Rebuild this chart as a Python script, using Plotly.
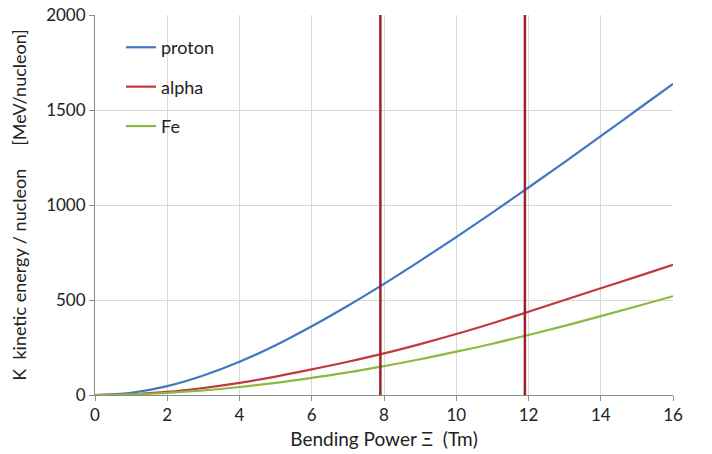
import plotly.graph_objects as go

bending_power = [0, 1, 2, 3, 4, 5, 6, 7, 8, 9, 10, 11, 12, 13, 14, 15, 16]
proton = [0, 12, 47, 103, 175, 262, 362, 470, 585, 706, 831, 960, 1092, 1226, 1362, 1500, 1638]
alpha = [0, 4, 16, 37, 64, 97, 135, 175, 219, 268, 321, 378, 438, 500, 562, 623, 685]
fe = [0, 3, 11, 24, 42, 64, 90, 119, 152, 188, 228, 270, 316, 364, 415, 467, 520]
marker_lines = [7.9, 11.9]

series = [("proton", proton, "#3f78c0"), ("alpha", alpha, "#c0393b"), ("Fe", fe, "#8db83f")]

fig = go.Figure()
for name, vals, col in series:
    fig.add_trace(go.Scatter(x=bending_power, y=vals, mode="lines", name=name,
                             legendgroup=name,
                             line=dict(color=col, width=2.2, shape="spline")))

for xv in marker_lines:
    fig.add_vline(x=xv, line=dict(color="#9b2226", width=2.5), layer="above")

font = "Lato, 'Open Sans', sans-serif"
fig.update_layout(
    width=712, height=454,
    margin=dict(l=95, r=39, t=15, b=59, autoexpand=False),
    paper_bgcolor="white", plot_bgcolor="white",
    font=dict(family=font, size=17, color="#222222"),
    showlegend=True,
    hovermode=False,
    legend=dict(x=0.045, y=0.963, xanchor="left", yanchor="top",
                bgcolor="rgba(0,0,0,0)", tracegroupgap=13,
                font=dict(size=18, color="#222222"), itemwidth=30),
    xaxis=dict(range=[0, 16], tickvals=[0, 2, 4, 6, 8, 10, 12, 14, 16],
               showgrid=True, gridcolor="#d9d9d9", gridwidth=1,
               showline=True, linecolor="#8c8c8c", linewidth=1,
               ticks="outside", ticklen=5, tickcolor="#8c8c8c",
               zeroline=False, automargin=False, ticklabeloverflow="allow",
               title=dict(text="Bending Power \u039e  (Tm)", font=dict(size=19), standoff=8)),
    yaxis=dict(range=[0, 2000], tickvals=[0, 500, 1000, 1500, 2000],
               showgrid=True, gridcolor="#d9d9d9", gridwidth=1,
               showline=True, linecolor="#8c8c8c", linewidth=1,
               ticks="outside", ticklen=5, tickcolor="#8c8c8c",
               zeroline=False, automargin=False, ticklabeloverflow="allow",
               title=dict(text="K  kinetic energy / nucleon     [MeV/nucleon]", font=dict(size=18), standoff=14)),
)

fig.write_html("out.html", config={"displayModeBar": False},
               post_script="document.body.style.margin='0';")
